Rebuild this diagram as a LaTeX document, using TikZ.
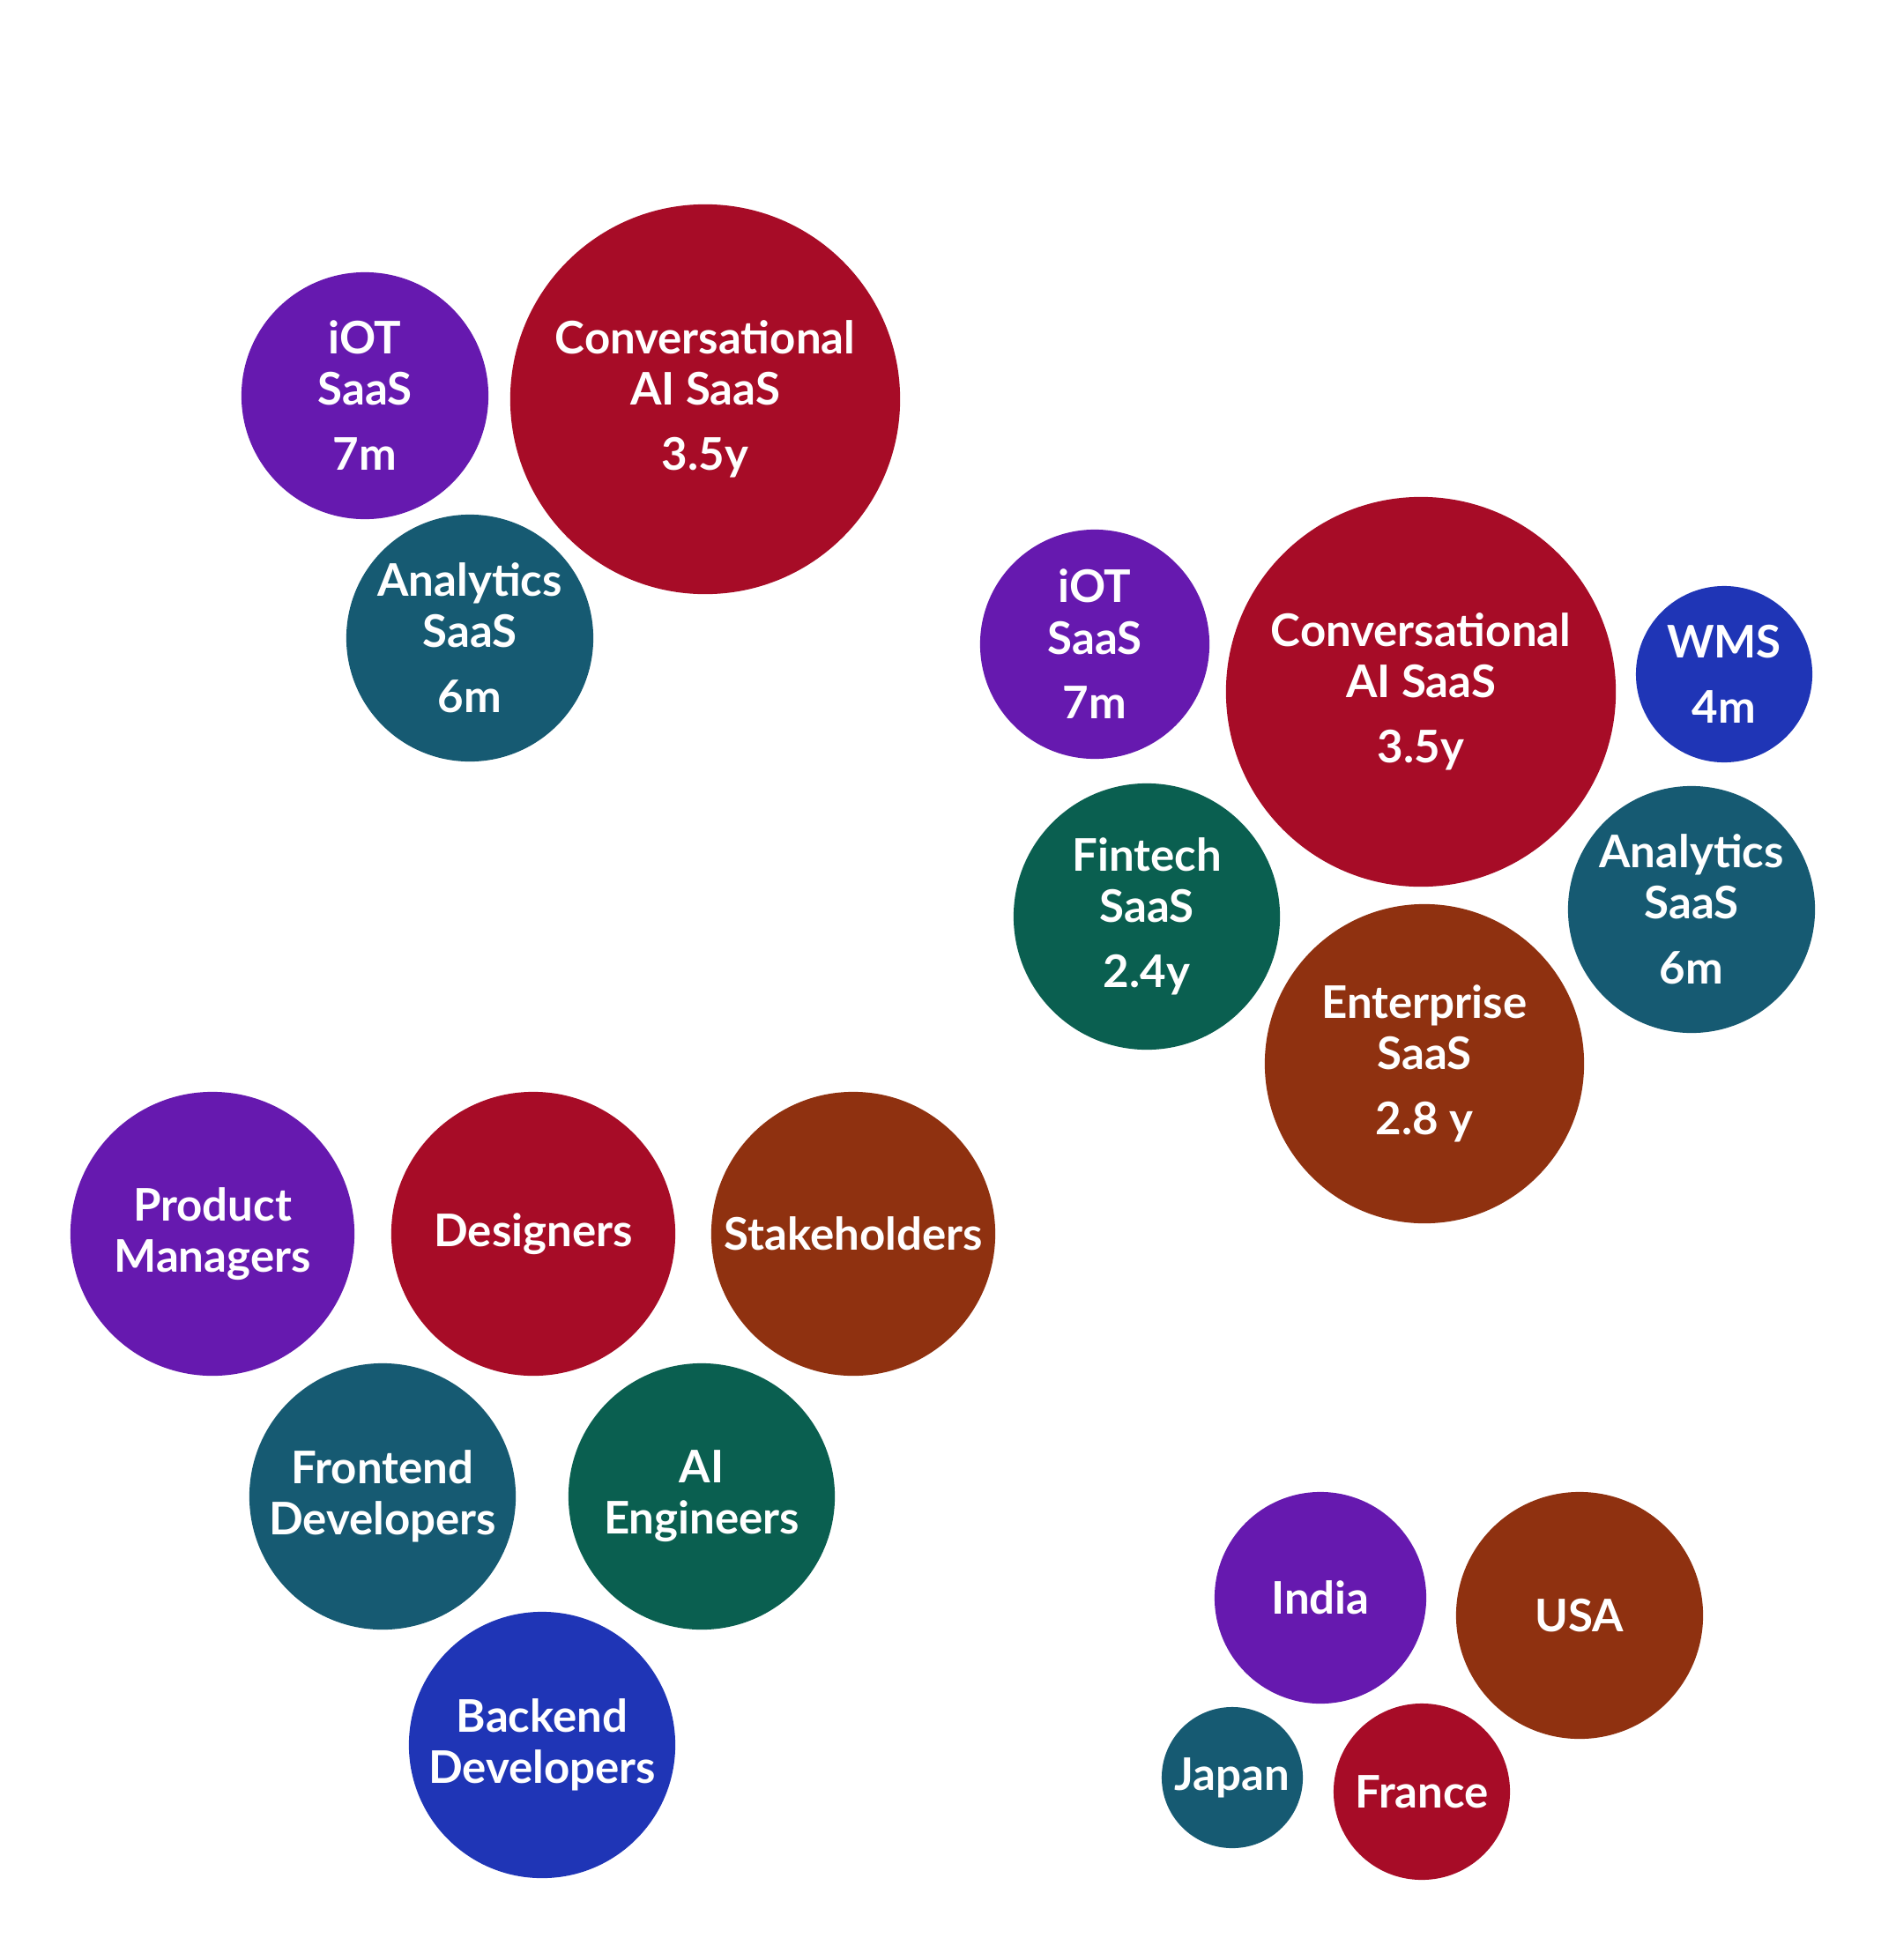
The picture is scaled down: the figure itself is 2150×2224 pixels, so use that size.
\documentclass[tikz,border=0pt]{standalone}
\usepackage{fontspec}
\setmainfont{Lato}
\usepackage{xcolor}
\usepackage{tikz}
\definecolor{iotpurple}{RGB}{102,25,175}
\definecolor{convred}{RGB}{167,12,39}
\definecolor{anateal}{RGB}{22,90,114}
\definecolor{fingreen}{RGB}{10,95,80}
\definecolor{entbrown}{RGB}{143,49,16}
\definecolor{wmsblue}{RGB}{31,53,182}
\newcommand{\bubfont}{\bfseries\fontsize{14.5}{16.5}\selectfont}
\tikzset{
    bub/.style={circle,fill=#1,draw=none,inner sep=0pt,text=white,align=center,font=\bubfont},
    rad/.style={minimum size=#1*0.02cm},
}

\begin{document}
\begin{tikzpicture}[x=0.01cm,y=-0.01cm]
\useasboundingbox (0,0) rectangle (2150,2224);
% products, first set
\node[bub=iotpurple,rad=140] (iot1) at (414,449) {iOT\\SaaS\\[4.5pt]7m};
\node[bub=convred,rad=221] (conv1) at (800,453) {Conversational\\AI SaaS\\[4.5pt]3.5y};
\node[bub=anateal,rad=140] (ana1) at (533,724) {Analytics\\SaaS\\[4.5pt]6m};
% products, second set
\node[bub=iotpurple,rad=130] (iot2) at (1242,731) {iOT\\SaaS\\[4.5pt]7m};
\node[bub=convred,rad=221] (conv2) at (1612,785) {Conversational\\AI SaaS\\[4.5pt]3.5y};
\node[bub=wmsblue,rad=100] (wms) at (1956,765) {WMS\\[4.5pt]4m};
\node[bub=fingreen,rad=151] (fin) at (1301,1040) {Fintech\\SaaS\\[4.5pt]2.4y};
\node[bub=anateal,rad=140] (ana2) at (1919,1032) {Analytics\\SaaS\\[4.5pt]6m};
\node[bub=entbrown,rad=181] (ent) at (1616,1207) {Enterprise\\SaaS\\[4.5pt]2.8 y};
% roles
\node[bub=iotpurple,rad=161] (pm) at (241,1400) {Product\\Managers};
\node[bub=convred,rad=161] (des) at (605,1400) {Designers};
\node[bub=entbrown,rad=161] (stake) at (968,1400) {Stakeholders};
\node[bub=anateal,rad=151] (fe) at (434,1698) {Frontend\\Developers};
\node[bub=fingreen,rad=151] (aie) at (796,1698) {AI\\Engineers};
\node[bub=wmsblue,rad=151] (be) at (615,1980) {Backend\\Developers};
% countries
\node[bub=iotpurple,rad=120] (india) at (1498,1813) {India};
\node[bub=entbrown,rad=140] (usa) at (1792,1833) {USA};
\node[bub=anateal,rad=80] (japan) at (1398,2017) {Japan};
\node[bub=convred,rad=100] (france) at (1613,2033) {France};
\end{tikzpicture}
\end{document}
